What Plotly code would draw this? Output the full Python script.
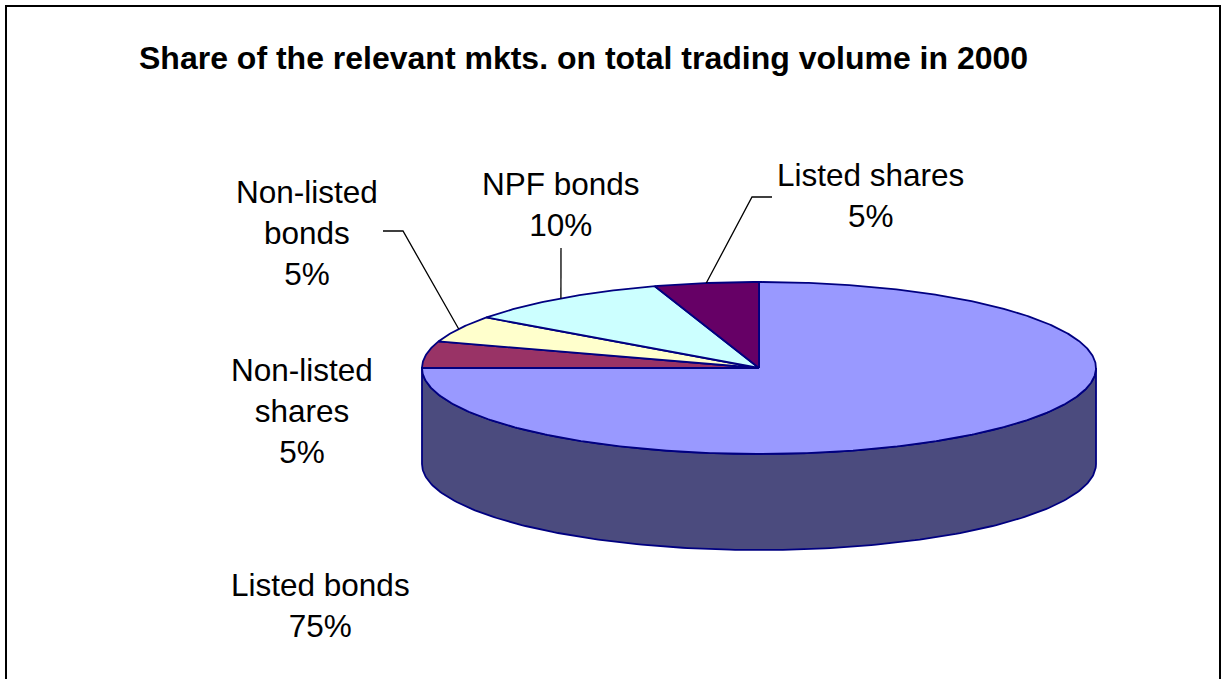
import numpy as np
import plotly.graph_objects as go

# Trading volume shares in 2000, listed clockwise from 12 o'clock
categories = ["Listed bonds", "Non-listed shares", "Non-listed bonds", "NPF bonds", "Listed shares"]
shares = [75, 5, 5, 10, 5]
label_text = ["Listed bonds<br>75%", "Non-listed<br>shares<br>5%", "Non-listed<br>bonds<br>5%",
              "NPF bonds<br>10%", "Listed shares<br>5%"]
top_colors = ["#9999FF", "#993366", "#FFFFCC", "#CCFFFF", "#660066"]
side_colors = ["#4B4B7E", "#4D1A33", "#808066", "#668080", "#330033"]
title = "Share of the relevant mkts. on total trading volume in 2000"

W, H = 1222, 679
CX, CY = 759, 368      # pie centre (pixels)
RX, RY = 337, 86       # ellipse radii of the tilted top face
DEPTH = 96             # thickness of the pie
OUTLINE = "#000080"
FONT = "Liberation Sans, Arial, sans-serif"


def ell(theta_deg, dy=0.0):
    t = np.radians(theta_deg)
    return CX + RX * np.sin(t), CY - RY * np.cos(t) + dy


# slice angle ranges (degrees clockwise from top)
total = float(sum(shares))
bounds = []
start = 0.0
for v in shares:
    end = start + 360.0 * v / total
    bounds.append((start, end))
    start = end

fig = go.Figure()

# front side walls (visible between 90 and 270 degrees)
for (a0, a1), col in zip(bounds, side_colors):
    s0, s1 = max(a0, 90.0), min(a1, 270.0)
    if s1 <= s0:
        continue
    th = np.linspace(s0, s1, 200)
    xt, yt = ell(th)
    xb, yb = ell(th[::-1], DEPTH)
    xs = np.concatenate([xt, xb, xt[:1]])
    ys = np.concatenate([yt, yb, yt[:1]])
    fig.add_trace(go.Scatter(x=xs, y=ys, mode="lines", fill="toself", fillcolor=col,
                             line=dict(color=OUTLINE, width=1.8), hoverinfo="skip",
                             showlegend=False))

# top faces
for (a0, a1), col, name in zip(bounds, top_colors, categories):
    th = np.linspace(a0, a1, max(int((a1 - a0) * 2), 12))
    xa, ya = ell(th)
    xs = np.concatenate([[CX], xa, [CX]])
    ys = np.concatenate([[CY], ya, [CY]])
    fig.add_trace(go.Scatter(x=xs, y=ys, mode="lines", fill="toself", fillcolor=col,
                             line=dict(color=OUTLINE, width=1.8), name=name,
                             hoverinfo="name", showlegend=False))

# data labels
label_pos = {
    "Listed bonds": (320, 605),
    "Non-listed shares": (302, 411),
    "Non-listed bonds": (307, 233),
    "NPF bonds": (561, 204),
    "Listed shares": (870, 195),
}
# leader line elbows for labels that need them
leader_elbow = {
    "Non-listed bonds": [(383, 231), (403, 231)],
    "NPF bonds": [(561, 248)],
    "Listed shares": [(772, 197), (752, 197)],
}
for name, txt, (a0, a1) in zip(categories, label_text, bounds):
    x, y = label_pos[name]
    fig.add_annotation(x=x, y=y, text=txt, showarrow=False, xanchor="center", yanchor="middle",
                       font=dict(family=FONT, size=31.5, color="#000000"), align="center")
    if name in leader_elbow:
        ex, ey = ell((a0 + a1) / 2.0)
        pts = leader_elbow[name] + [(float(ex), float(ey))]
        fig.add_trace(go.Scatter(x=[p[0] for p in pts], y=[p[1] for p in pts], mode="lines",
                                 line=dict(color="#000000", width=1.3), hoverinfo="skip",
                                 showlegend=False))

fig.add_annotation(x=137, y=58, text="<b>" + title + "</b>", showarrow=False,
                   xanchor="left", yanchor="middle",
                   font=dict(family=FONT, size=32, color="#000000"))

# chart area border
fig.add_shape(type="rect", x0=6, y0=6, x1=1220, y1=720,
              line=dict(color="#000000", width=2), fillcolor="rgba(0,0,0,0)")

fig.update_layout(
    width=W, height=H, margin=dict(l=0, r=0, t=0, b=0),
    paper_bgcolor="#FFFFFF", plot_bgcolor="#FFFFFF",
    xaxis=dict(range=[0, W], visible=False, fixedrange=True),
    yaxis=dict(range=[H, 0], visible=False, fixedrange=True),
    showlegend=False,
)

fig.write_html("out.html")
